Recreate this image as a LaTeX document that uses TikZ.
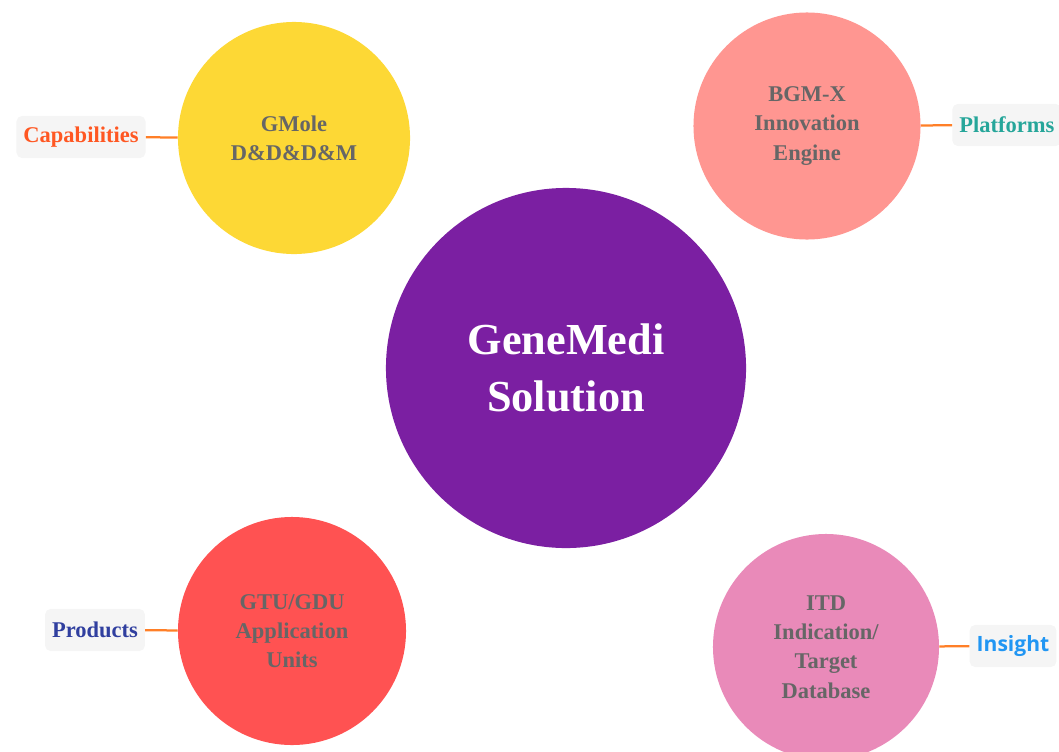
\documentclass[tikz,border=0pt]{standalone}
\usepackage{fontspec}
\setmainfont{Liberation Serif}
\newfontfamily\insightfont{Open Sans}
\usepackage{tikz}
\usetikzlibrary{positioning}

\definecolor{corepurple}{HTML}{7B1FA2}
\definecolor{moleyellow}{HTML}{FDD835}
\definecolor{engsalmon}{HTML}{FF9691}
\definecolor{unitred}{HTML}{FF5252}
\definecolor{dbpink}{HTML}{E98AB9}
\definecolor{txtgray}{HTML}{666666}
\definecolor{tagfill}{HTML}{F5F5F5}
\definecolor{linkorange}{HTML}{FF7F27}
\definecolor{capred}{HTML}{FF5722}
\definecolor{platteal}{HTML}{26A69A}
\definecolor{prodblue}{HTML}{303F9F}
\definecolor{insblue}{HTML}{2196F3}

\tikzset{
  bubble/.style={circle, inner sep=0pt, align=center, text=txtgray,
    font=\fontsize{16}{20.8}\selectfont\bfseries},
  tag/.style={fill=tagfill, rounded corners=4pt, inner xsep=5pt,
    minimum height=30pt, font=\fontsize{16}{18}\selectfont\bfseries},
  link/.style={draw=linkorange, line width=1.6pt}
}

\begin{document}
\begin{tikzpicture}[x=0.025cm, y=-0.025cm]
  \useasboundingbox (0,0) rectangle (1059,751);

  % Centre circle
  \node (core) [bubble, fill=corepurple, minimum size=9cm, text=white,
    font=\fontsize{31.5}{41}\selectfont\bfseries] at (566,368) {GeneMedi\\Solution};

  % Four satellite circles
  \node (gmole) [bubble, fill=moleyellow, minimum size=5.8cm]   at (294,138) {GMole\\D\&D\&D\&M};
  \node (bgmx)  [bubble, fill=engsalmon,  minimum size=5.675cm] at (807,126) {BGM-X\\Innovation\\Engine};
  \node (gtu)   [bubble, fill=unitred,    minimum size=5.7cm]   at (292,631) {GTU/GDU\\Application\\Units};
  \node (itd)   [bubble, fill=dbpink,     minimum size=5.65cm]  at (826,647) {ITD\\Indication/\\Target\\Database};

  % Tags beside the circles
  \node (capab)   [tag, text=capred]   at (81,137)  {Capabilities};
  \node (platf)   [tag, text=platteal, anchor=west] at (952,125) {Platforms};
  \node (prod)    [tag, text=prodblue] at (95,630)  {Products};
  \node (insight) [tag, text=insblue, font=\fontsize{15}{18}\insightfont\bfseries] at (1013,646) {Insight};

  % Short connectors
  \draw[link] (capab) -- (gmole);
  \draw[link] (bgmx) -- (platf);
  \draw[link] (prod) -- (gtu);
  \draw[link] (itd) -- (insight);
\end{tikzpicture}
\end{document}
